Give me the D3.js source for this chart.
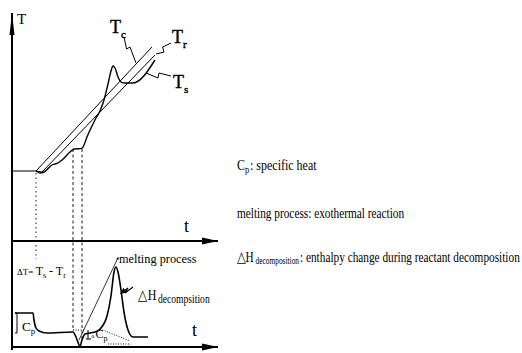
<!DOCTYPE html>
<html>
<head>
<meta charset="utf-8">
<script src="https://cdn.jsdelivr.net/npm/d3@7"></script>
<style>
  body { margin: 0; background: #fff; }
  svg { display: block; font-family: "Liberation Serif", "Times New Roman", serif; }
</style>
</head>
<body>
<script>
// upper panel: temperatures vs time  [t, T]
const tcCurve = [[0, 35], [12, 35], [70, 97]];
const trCurve = [[12, 35], [15, 34.5], [71.5, 93]];
const tsCurve = [[12, 35], [14, 34], [16, 34.5], [20, 38], [22.5, 38.8], [25, 40.5], [29, 44.5],
  [31, 46], [35, 46.3], [36, 48], [37.5, 52], [40, 57.5], [42, 61.5], [44, 65], [46, 70.5],
  [48, 78.5], [49.5, 85], [50.5, 87.5], [51.5, 86.5], [53, 82], [54.5, 79.5], [56, 79],
  [60.5, 79], [71.5, 90.5]];
// lower panel: ΔT = Ts - Tr  [t, ΔT]
const dtCurve = [[1.5, 17], [10.5, 17], [11, 13.5], [12, 9.5], [13.5, 8], [17.5, 7], [30.5, 7.5],
  [32, 5], [34, 0.5], [35, 3.5], [36.5, 6.5], [41.5, 7.5], [44, 9], [47.5, 15.5], [49.5, 25.5],
  [51, 37.5], [52, 40], [53, 37.5], [54.5, 28.5], [56, 17.5], [58, 8.5], [60.5, 5], [68, 5]];
// vertical guides: t, top (T), bottom (ΔT)
const guides = [{t: 12, top: 34, bottom: 44, dash: "1.5,3"},
                {t: 30.5, top: 46, bottom: 8, dash: "3,2.5"},
                {t: 35, top: 46, bottom: 3, dash: "3,2.5"}];
const legend = ["specific heat", "melting process: exothermal reaction",
  "enthalpy change during reactant decomposition"];

const W = 522, H = 353;
const svg = d3.select("body").append("svg").attr("width", W).attr("height", H);

const x = d3.scaleLinear().domain([0, 103]).range([12, 218]);
const yT = d3.scaleLinear().domain([0, 115]).range([241, 11]);
const yD = d3.scaleLinear().domain([0, 53]).range([347, 241]);

const defs = svg.append("defs");
defs.append("marker").attr("id", "arrH").attr("markerUnits", "userSpaceOnUse")
  .attr("markerWidth", 18).attr("markerHeight", 10).attr("refX", 16).attr("refY", 4)
  .attr("orient", "auto").append("path").attr("d", "M0,0.5L16,4L0,7.5Z").attr("fill", "#000");
defs.append("marker").attr("id", "arrV").attr("markerUnits", "userSpaceOnUse")
  .attr("markerWidth", 24).attr("markerHeight", 8).attr("refX", 22).attr("refY", 3)
  .attr("orient", "auto").append("path").attr("d", "M0,0.5L22,3L0,5.5Z").attr("fill", "#000");
defs.append("marker").attr("id", "arrS").attr("markerUnits", "userSpaceOnUse")
  .attr("markerWidth", 8).attr("markerHeight", 8).attr("refX", 6).attr("refY", 3)
  .attr("orient", "auto").append("path").attr("d", "M0,0L6,3L0,6Z").attr("fill", "#000");

const lineT = d3.line().x(d => x(d[0])).y(d => yT(d[1]));
const lineTs = d3.line().x(d => x(d[0])).y(d => yT(d[1])).curve(d3.curveMonotoneX);
const lineD = d3.line().x(d => x(d[0])).y(d => yD(d[1])).curve(d3.curveMonotoneX);
const lineDlin = d3.line().x(d => x(d[0])).y(d => yD(d[1]));

// axes
svg.append("line").attr("x1", x(0)).attr("x2", x(0)).attr("y1", yD(-1.5)).attr("y2", yT(114))
  .attr("stroke", "#000").attr("stroke-width", 2).attr("marker-end", "url(#arrV)");
[yT(0), yD(0)].forEach(yy => {
  svg.append("line").attr("x1", x(0)).attr("x2", x(103)).attr("y1", yy).attr("y2", yy)
    .attr("stroke", "#000").attr("stroke-width", 2).attr("marker-end", "url(#arrH)");
});

// guides
svg.append("g").selectAll("line").data(guides).join("line")
  .attr("x1", d => x(d.t)).attr("x2", d => x(d.t))
  .attr("y1", d => yT(d.top)).attr("y2", d => yD(d.bottom))
  .attr("stroke", "#000").attr("stroke-width", 0.9).attr("stroke-dasharray", d => d.dash);

// curves
svg.append("path").attr("d", lineT(tcCurve)).attr("fill", "none").attr("stroke", "#000").attr("stroke-width", 1);
svg.append("path").attr("d", lineT(trCurve)).attr("fill", "none").attr("stroke", "#000").attr("stroke-width", 1);
svg.append("path").attr("d", lineTs(tsCurve)).attr("fill", "none").attr("stroke", "#000").attr("stroke-width", 1.4);
svg.append("path").attr("d", lineD(dtCurve)).attr("fill", "none").attr("stroke", "#000").attr("stroke-width", 1.6);

// lower panel helper lines
const dotted = [[[30.5, 8.5], [36, 8.5]], [[44, 9], [59, 3]], [[48, 1.5], [59.5, 1.5]]];
dotted.forEach(p => svg.append("path").attr("d", lineDlin(p)).attr("fill", "none")
  .attr("stroke", "#000").attr("stroke-width", 0.9).attr("stroke-dasharray", "1,1.5"));
svg.append("path").attr("d", lineDlin([[33.5, 3.5], [52.7, 44]])).attr("fill", "none")
  .attr("stroke", "#000").attr("stroke-width", 0.8);
svg.append("circle").attr("cx", x(52.9)).attr("cy", yD(44.2)).attr("r", 1.1).attr("fill", "#000");
svg.append("path").attr("d", lineDlin([[60.5, 30], [56.5, 27], [58, 29.5], [54.2, 26.6]]))
  .attr("fill", "none").attr("stroke", "#000").attr("stroke-width", 1.1).attr("marker-end", "url(#arrS)");

// leader squiggles for labels
const leaders = [
  [[56, 102], [57.3, 96], [59, 97], [62, 89]],
  [[72, 93.5], [76, 94.5], [75.3, 97], [79.5, 99]],
  [[67, 84], [73, 81.5], [73.5, 84], [79.5, 82.5]]
];
leaders.forEach(p => svg.append("path").attr("d", lineT(p)).attr("fill", "none")
  .attr("stroke", "#000").attr("stroke-width", 1));

// text piece; sy stretches it vertically (the source lettering is narrow and tall)
function txt(px, py, str, size, sy) {
  return svg.append("text").attr("transform", `translate(${px},${py}) scale(1,${sy || 1})`)
    .attr("font-size", size).text(str);
}
function label(px, py, main, sub, size, subSize) {
  const t = svg.append("text").attr("x", px).attr("y", py).attr("font-size", size);
  t.append("tspan").text(main);
  if (sub) t.append("tspan").attr("font-size", subSize).attr("dy", size * 0.25).text(sub);
  return t;
}

txt(x(2.5), yT(108.5), "T", 15);
txt(x(86), yT(4.5), "t", 18);
txt(x(90), yD(5.5), "t", 18);
label(x(49), yT(104), "T", "c", 18, 11).attr("stroke", "#000").attr("stroke-width", 0.4);
label(x(80), yT(99), "T", "r", 18, 11).attr("stroke", "#000").attr("stroke-width", 0.4);
label(x(80.5), yT(76.5), "T", "s", 18, 11).attr("stroke", "#000").attr("stroke-width", 0.4);

// ΔT = Ts - Tr
const dt = svg.append("text").attr("x", x(2.5)).attr("y", yD(36)).attr("font-size", 12);
dt.append("tspan").attr("font-size", 9).text("ΔT= ");
dt.append("tspan").text("T");
dt.append("tspan").attr("font-size", 8).attr("dy", 3).text("s");
dt.append("tspan").attr("dy", -3).text(" - T");
dt.append("tspan").attr("font-size", 8).attr("dy", 3).text("r");

// Cp bracket
svg.append("path").attr("d", `M${x(1.5)},${yD(17)}L${x(2.5)},${yD(17)}L${x(2.5)},${yD(7)}L${x(1.5)},${yD(7)}`)
  .attr("fill", "none").attr("stroke", "#000").attr("stroke-width", 1);
label(x(5), yD(8), "C", "p", 13, 9);
// ΔCp
svg.append("path").attr("d", `M${x(38)},${yD(8.5)}L${x(38)},${yD(4)}M${x(37)},${yD(4)}L${x(39.5)},${yD(4)}`)
  .attr("fill", "none").attr("stroke", "#000").attr("stroke-width", 1);
txt(x(39.6), yD(4.5), "Δ", 5);
label(x(41.8), yD(4.5), "C", "p", 12, 8);

txt(x(53.5), yD(42), "melting process", 12.3);
txt(x(63), yD(23.5), "△H", 12, 1.25);
txt(x(73), yD(22), "decompsition", 9.6, 1.2);

// legend on the right
const lt = 11.3, ls = 1.3;
txt(237, 170, "C", 12, ls);
txt(245, 173, "p", 8.5, ls);
txt(250, 170, ": " + legend[0], 12, ls);
txt(237, 218, legend[1], lt, ls);
txt(237, 262, "△H", lt, ls);
txt(255.5, 264, "decomposition", 7.4, ls);
txt(300, 262, ": " + legend[2], lt, ls);
</script>
</body>
</html>
